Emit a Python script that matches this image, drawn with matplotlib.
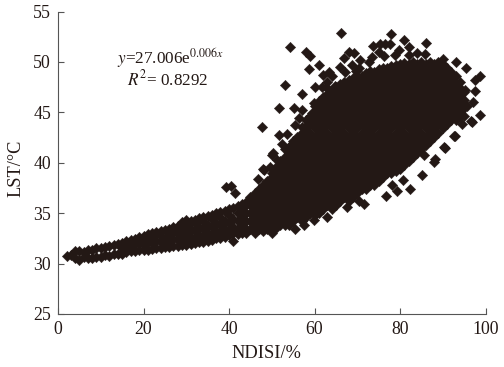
# NDISI / LST scatter
import matplotlib
matplotlib.use("Agg")
import matplotlib.pyplot as plt

plt.rcParams['font.family'] = ['Liberation Serif', 'DejaVu Serif']
plt.rcParams['mathtext.fontset'] = 'stix'

# narrow band of points, low NDISI
band_x = list(range(2, 45))
band_y = [
    [30.8], [30.9], [30.6, 31.2], [30.4, 31.2], [30.7, 31.1], [30.6, 31.3], [30.6, 31.3],
    [30.7, 31.5], [30.7, 31.5], [30.9, 31.6], [30.8, 31.7], [31.0, 31.8], [31.0, 31.9],
    [31.0, 31.5, 32.0], [31.1, 31.7, 32.2], [31.2, 31.8, 32.3], [31.2, 31.9, 32.4],
    [31.3, 32.0, 32.6], [31.3, 31.8, 32.3, 32.7], [31.3, 32.1, 32.9], [31.4, 32.0, 32.6, 33.0],
    [31.5, 32.2, 33.1], [31.5, 32.1, 32.7, 33.2], [31.6, 32.4, 33.3], [31.6, 32.2, 32.8, 33.4],
    [31.7, 32.4, 33.2, 33.6], [31.7, 32.3, 32.9, 33.7], [31.8, 32.6, 33.4, 34.1],
    [31.8, 32.2, 33.0, 33.8, 34.3], [31.9, 32.6, 33.4, 34.2], [32.0, 32.4, 33.2, 34.0, 34.3],
    [32.1, 32.8, 33.6, 34.5], [32.1, 32.6, 33.4, 34.2, 34.6], [32.2, 33.0, 33.8, 34.7],
    [32.3, 32.8, 33.6, 34.4, 34.8], [32.5, 33.2, 34.0, 35.0], [32.5, 33.0, 33.8, 34.6, 35.1],
    [32.6, 33.4, 34.2, 35.2], [32.8, 33.2, 34.0, 34.8, 35.4], [32.2, 33.0, 33.6, 34.4, 35.5],
    [32.9, 33.4, 34.2, 35.0, 35.7], [33.0, 33.8, 34.6, 35.5, 35.9], [33.0, 33.4, 34.2, 35.0, 35.8, 36.1],
]

# dense cloud, high NDISI
cloud_x = list(range(45, 96))
cloud_y = [
    [33.4, 34.2, 35.0, 35.8, 36.6],
    [33.0, 33.8, 34.6, 35.4, 36.2, 37.0],
    [33.4, 34.2, 35.0, 35.8, 36.6, 37.4],
    [33.2, 33.8, 34.6, 35.4, 36.2, 37.0, 37.8],
    [33.4, 34.2, 35.0, 35.8, 36.6, 37.4, 38.2],
    [33.0, 33.8, 34.6, 35.4, 36.2, 37.0, 37.8, 38.6, 39.0],
    [33.5, 34.2, 35.0, 35.8, 36.6, 37.4, 38.2, 39.0, 39.6],
    [33.8, 34.6, 35.4, 36.2, 37.0, 37.8, 38.6, 39.4, 40.2],
    [33.8, 34.2, 35.0, 35.8, 36.6, 37.4, 38.2, 39.0, 39.8, 40.6],
    [33.8, 34.6, 35.4, 36.2, 37.0, 37.8, 38.6, 39.4, 40.2, 41.0, 41.6],
    [34.2, 35.0, 35.8, 36.6, 37.4, 38.2, 39.0, 39.8, 40.6, 41.4, 42.2],
    [34.6, 35.4, 36.2, 37.0, 37.8, 38.6, 39.4, 40.2, 41.0, 41.8, 42.6],
    [34.2, 35.0, 35.8, 36.6, 37.4, 38.2, 39.0, 39.8, 40.6, 41.4, 42.2, 43.0, 43.5],
    [34.6, 35.4, 36.2, 37.0, 37.8, 38.6, 39.4, 40.2, 41.0, 41.8, 42.6, 43.4, 44.2],
    [35.0, 35.8, 36.6, 37.4, 38.2, 39.0, 39.8, 40.6, 41.4, 42.2, 43.0, 43.8, 44.6],
    [34.8, 35.4, 36.2, 37.0, 37.8, 38.6, 39.4, 40.2, 41.0, 41.8, 42.6, 43.4, 44.2, 45.0, 45.6],
    [35.0, 35.8, 36.6, 37.4, 38.2, 39.0, 39.8, 40.6, 41.4, 42.2, 43.0, 43.8, 44.6, 45.4, 46.1],
    [35.4, 36.2, 37.0, 37.8, 38.6, 39.4, 40.2, 41.0, 41.8, 42.6, 43.4, 44.2, 45.0, 45.8, 46.5],
    [35.8, 36.6, 37.4, 38.2, 39.0, 39.8, 40.6, 41.4, 42.2, 43.0, 43.8, 44.6, 45.4, 46.2, 46.8],
    [35.4, 36.2, 37.0, 37.8, 38.6, 39.4, 40.2, 41.0, 41.8, 42.6, 43.4, 44.2, 45.0, 45.8, 46.6, 47.1],
    [35.8, 36.6, 37.4, 38.2, 39.0, 39.8, 40.6, 41.4, 42.2, 43.0, 43.8, 44.6, 45.4, 46.2, 47.0, 47.5],
    [36.2, 37.0, 37.8, 38.6, 39.4, 40.2, 41.0, 41.8, 42.6, 43.4, 44.2, 45.0, 45.8, 46.6, 47.4, 47.8],
    [36.6, 37.4, 38.2, 39.0, 39.8, 40.6, 41.4, 42.2, 43.0, 43.8, 44.6, 45.4, 46.2, 47.0, 47.8, 48.0],
    [36.2, 37.0, 37.8, 38.6, 39.4, 40.2, 41.0, 41.8, 42.6, 43.4, 44.2, 45.0, 45.8, 46.6, 47.4, 48.2],
    [36.6, 37.4, 38.2, 39.0, 39.8, 40.6, 41.4, 42.2, 43.0, 43.8, 44.6, 45.4, 46.2, 47.0, 47.8, 48.4],
    [37.0, 37.8, 38.6, 39.4, 40.2, 41.0, 41.8, 42.6, 43.4, 44.2, 45.0, 45.8, 46.6, 47.4, 48.2, 48.6],
    [37.4, 38.2, 39.0, 39.8, 40.6, 41.4, 42.2, 43.0, 43.8, 44.6, 45.4, 46.2, 47.0, 47.8, 48.6],
    [37.4, 37.8, 38.6, 39.4, 40.2, 41.0, 41.8, 42.6, 43.4, 44.2, 45.0, 45.8, 46.6, 47.4, 48.2, 48.9],
    [37.8, 38.2, 39.0, 39.8, 40.6, 41.4, 42.2, 43.0, 43.8, 44.6, 45.4, 46.2, 47.0, 47.8, 48.6, 49.1],
    [37.8, 38.6, 39.4, 40.2, 41.0, 41.8, 42.6, 43.4, 44.2, 45.0, 45.8, 46.6, 47.4, 48.2, 49.0],
    [38.2, 39.0, 39.8, 40.6, 41.4, 42.2, 43.0, 43.8, 44.6, 45.4, 46.2, 47.0, 47.8, 48.6, 49.3],
    [38.6, 39.4, 40.2, 41.0, 41.8, 42.6, 43.4, 44.2, 45.0, 45.8, 46.6, 47.4, 48.2, 49.0, 49.4],
    [39.0, 39.8, 40.6, 41.4, 42.2, 43.0, 43.8, 44.6, 45.4, 46.2, 47.0, 47.8, 48.6, 49.4],
    [39.0, 39.4, 40.2, 41.0, 41.8, 42.6, 43.4, 44.2, 45.0, 45.8, 46.6, 47.4, 48.2, 49.0, 49.6],
    [39.2, 39.8, 40.6, 41.4, 42.2, 43.0, 43.8, 44.6, 45.4, 46.2, 47.0, 47.8, 48.6, 49.4, 49.7],
    [39.4, 40.2, 41.0, 41.8, 42.6, 43.4, 44.2, 45.0, 45.8, 46.6, 47.4, 48.2, 49.0, 49.8],
    [39.8, 40.6, 41.4, 42.2, 43.0, 43.8, 44.6, 45.4, 46.2, 47.0, 47.8, 48.6, 49.4, 49.9],
    [40.2, 41.0, 41.8, 42.6, 43.4, 44.2, 45.0, 45.8, 46.6, 47.4, 48.2, 49.0, 49.8],
    [40.6, 41.4, 42.2, 43.0, 43.8, 44.6, 45.4, 46.2, 47.0, 47.8, 48.6, 49.4, 50.0],
    [41.0, 41.8, 42.6, 43.4, 44.2, 45.0, 45.8, 46.6, 47.4, 48.2, 49.0, 49.8],
    [41.4, 42.2, 43.0, 43.8, 44.6, 45.4, 46.2, 47.0, 47.8, 48.6, 49.4, 50.0],
    [41.8, 42.6, 43.4, 44.2, 45.0, 45.8, 46.6, 47.4, 48.2, 49.0, 49.8],
    [42.2, 43.0, 43.8, 44.6, 45.4, 46.2, 47.0, 47.8, 48.6, 49.4, 50.0],
    [42.6, 43.4, 44.2, 45.0, 45.8, 46.6, 47.4, 48.2, 49.0, 49.8],
    [43.0, 43.8, 44.6, 45.4, 46.2, 47.0, 47.8, 48.6, 49.4, 50.0],
    [43.4, 44.2, 45.0, 45.8, 46.6, 47.4, 48.2, 49.0, 49.8],
    [43.8, 44.6, 45.4, 46.2, 47.0, 47.8, 48.6, 49.4],
    [44.2, 45.0, 45.8, 46.6, 47.4, 48.2, 49.0],
    [44.2, 44.6, 45.4, 46.2, 47.0, 47.8, 48.6],
    [44.6, 45.0, 45.8, 46.6, 47.4, 48.0],
    [44.6, 45.4, 46.2, 47.0],
]

# loose points around the cloud, upper side
upper_x = [66.2, 78.0, 80.9, 86.0, 54.3, 57.9, 59.0, 73.6, 98.8, 53.1, 47.7, 51.7,
           61.1, 58.8, 60.0, 57.0, 55.1, 57.0, 63.5, 62.1, 64.1, 62.9, 68.0, 69.2,
           66.8, 70.7, 66.0, 68.8, 70.3, 75.0, 76.6, 77.7, 79.7, 82.2, 84.0, 73.5,
           75.4, 78.9, 82.0, 85.9, 90.0, 93.1, 95.4, 97.5, 97.6, 95.3, 97.0, 98.8,
           95.7, 96.7, 94.5, 55.5, 57.9, 59.4, 51.6, 53.6, 53.2, 50.1, 51.2, 48.1,
           48.9, 54.7, 50.3, 48.0, 39.3, 40.5, 41.4, 67.2, 69.6, 72.8, 76.3, 63.0,
           64.9, 61.8, 59.9, 56.3, 52.4, 49.6, 46.7]
upper_y = [52.9, 52.8, 52.2, 51.9, 51.5, 51.0, 50.6, 51.6, 48.6, 47.7, 43.5, 45.4,
           49.7, 49.3, 47.5, 46.8, 45.4, 45.2, 49.0, 48.7, 48.6, 47.4, 51.0, 50.9,
           50.4, 50.2, 49.5, 49.7, 49.4, 51.0, 51.8, 51.8, 51.2, 51.5, 50.9, 50.5,
           51.8, 50.7, 50.7, 50.8, 50.3, 50.0, 49.4, 48.2, 47.1, 47.2, 46.0, 44.7,
           45.6, 44.1, 43.8, 43.7, 43.6, 44.9, 42.8, 42.9, 41.4, 40.8, 40.3, 39.3,
           38.1, 41.9, 41.0, 39.4, 37.6, 37.7, 37.0, 49.0, 49.1, 50.0, 50.6, 48.0,
           47.6, 47.5, 45.9, 44.4, 41.9, 39.6, 38.4]

# loose points, lower side
lower_x = [82.3, 76.7, 79.3, 71.6, 70.5, 67.6, 62.9, 57.6, 59.9, 55.4, 85.1, 88.2,
           92.9, 90.5, 78.1, 80.7, 96.8, 92.6, 90.2, 87.9, 85.5]
lower_y = [37.4, 36.7, 37.2, 35.9, 36.2, 35.6, 34.6, 33.8, 34.3, 33.4, 38.8, 40.4,
           42.7, 41.5, 37.8, 38.3, 44.0, 42.7, 41.6, 40.1, 40.8]

x_ticks = [0, 20, 40, 60, 80, 100]
y_ticks = [25, 30, 35, 40, 45, 50, 55]

fig = plt.figure(figsize=(5.04, 3.67), dpi=100)
ax = fig.add_axes([58 / 504, 53 / 367, 427.5 / 504, 302.5 / 367])

# flatten the columns
xs, ys = [], []
for cx, col in zip(band_x + cloud_x, band_y + cloud_y):
    for v in col:
        xs.append(cx)
        ys.append(v)
xs = xs + upper_x + lower_x
ys = ys + upper_y + lower_y

ax.scatter(xs, ys, marker='D', s=28, color='#231815', linewidths=0.3, edgecolors='#231815',
           clip_on=False, zorder=3)

ax.set_xlim(0, 100)
ax.set_ylim(25, 55)
ax.set_xticks(x_ticks)
ax.set_yticks(y_ticks)
ax.tick_params(direction='in', length=4, width=0.8, color='#555555', labelsize=12.8,
               labelcolor='#231815', pad=5)
ax.spines['top'].set_visible(False)
ax.spines['right'].set_visible(False)
ax.spines['left'].set_color('#555555')
ax.spines['bottom'].set_color('#555555')

fig.text(266 / 504, 1 - 353 / 367, 'NDISI/%', ha='center', va='center', fontsize=13.2, color='#231815')
fig.text(16 / 504, 1 - 168 / 367, 'LST/°C', rotation=90, ha='center', va='center', fontsize=13.2, color='#231815')

ax.text(26.2, 50.4, r'$y$=27.006e$^{0.006x}$', ha='center', va='center', fontsize=12.3, color='#231815')
ax.text(25.6, 48.3, r'$R^2$= 0.8292', ha='center', va='center', fontsize=12.3, color='#231815')

fig.savefig('out.png', dpi=100)
